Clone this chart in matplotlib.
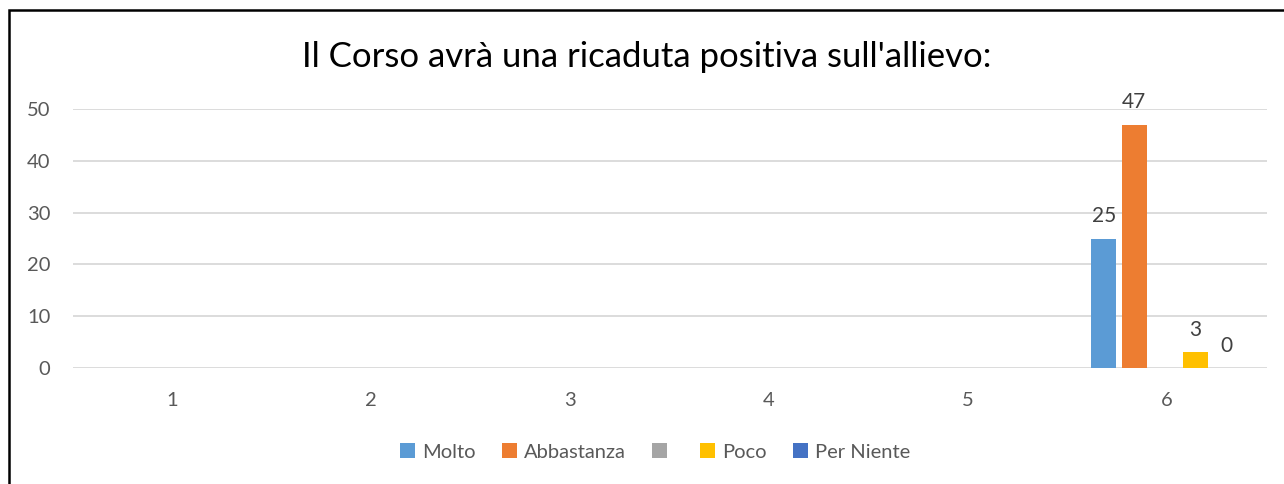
import numpy as np
import matplotlib.pyplot as plt
from matplotlib.patches import Rectangle, Patch

categories = ["1", "2", "3", "4", "5", "6"]
series_names = ["Molto", "Abbastanza", "", "Poco", "Per Niente"]
molto = [np.nan, np.nan, np.nan, np.nan, np.nan, 25]
abbastanza = [np.nan, np.nan, np.nan, np.nan, np.nan, 47]
grigio = [np.nan, np.nan, np.nan, np.nan, np.nan, np.nan]
poco = [np.nan, np.nan, np.nan, np.nan, np.nan, 3]
per_niente = [np.nan, np.nan, np.nan, np.nan, np.nan, 0]
series_values = [molto, abbastanza, grigio, poco, per_niente]
colors = ["#5B9BD5", "#ED7D31", "#A5A5A5", "#FFC000", "#4472C4"]
title = "Il Corso avrà una ricaduta positiva sull'allievo:"

plt.rcParams['font.family'] = ['Lato', 'DejaVu Sans']

fig = plt.figure(figsize=(12.84, 4.84), dpi=100)
ax = fig.add_axes([72.5 / 1284, 116 / 484, 1194 / 1284, 259 / 484])

x = np.arange(len(categories))
slot = 0.154
width = 0.126
shift = -0.01
for i, (name, vals, c) in enumerate(zip(series_names, series_values, colors)):
    pos = x + (i - 2) * slot + shift
    vals = np.array(vals, dtype=float)
    ax.bar(pos, vals, width=width, color=c, zorder=3)
    for p, v in zip(pos, vals):
        if not np.isnan(v):
            ax.annotate(f"{v:g}", (p, v), xytext=(0, 9), textcoords="offset points",
                        ha="center", va="bottom", fontsize=15, color="#404040")

ax.set_xlim(-0.5, len(categories) - 0.5)
ax.set_ylim(0, 50)
ax.set_yticks(range(0, 51, 10))
ax.set_xticks(x)
ax.set_xticklabels(categories)
ax.yaxis.grid(True, color="#D9D9D9", linewidth=1.3, zorder=0)
ax.set_axisbelow(True)
for s in ax.spines.values():
    s.set_visible(False)
ax.tick_params(axis="both", length=0, labelsize=14.5, labelcolor="#595959")
ax.tick_params(axis="y", pad=16)
ax.tick_params(axis="x", pad=17)

fig.suptitle(title, x=647 / 1284, y=1 - 57 / 484, va="center", fontsize=25, color="#000000")

handles = [Patch(facecolor=c, edgecolor="none") for c in colors]
fig.legend(handles, series_names, loc="center", bbox_to_anchor=(655 / 1284, 1 - 452 / 484),
           ncol=5, frameon=False, fontsize=14.5, handlelength=0.75, handleheight=0.75,
           handletextpad=0.35, columnspacing=1.3, labelcolor="#595959")

fig.patches.append(Rectangle((9 / 1284, -0.1), 1.2, 1.1 - 10 / 484, transform=fig.transFigure,
                             fill=False, edgecolor="black", linewidth=1.8, figure=fig))

fig.savefig("out.png", dpi=100, facecolor="white")
